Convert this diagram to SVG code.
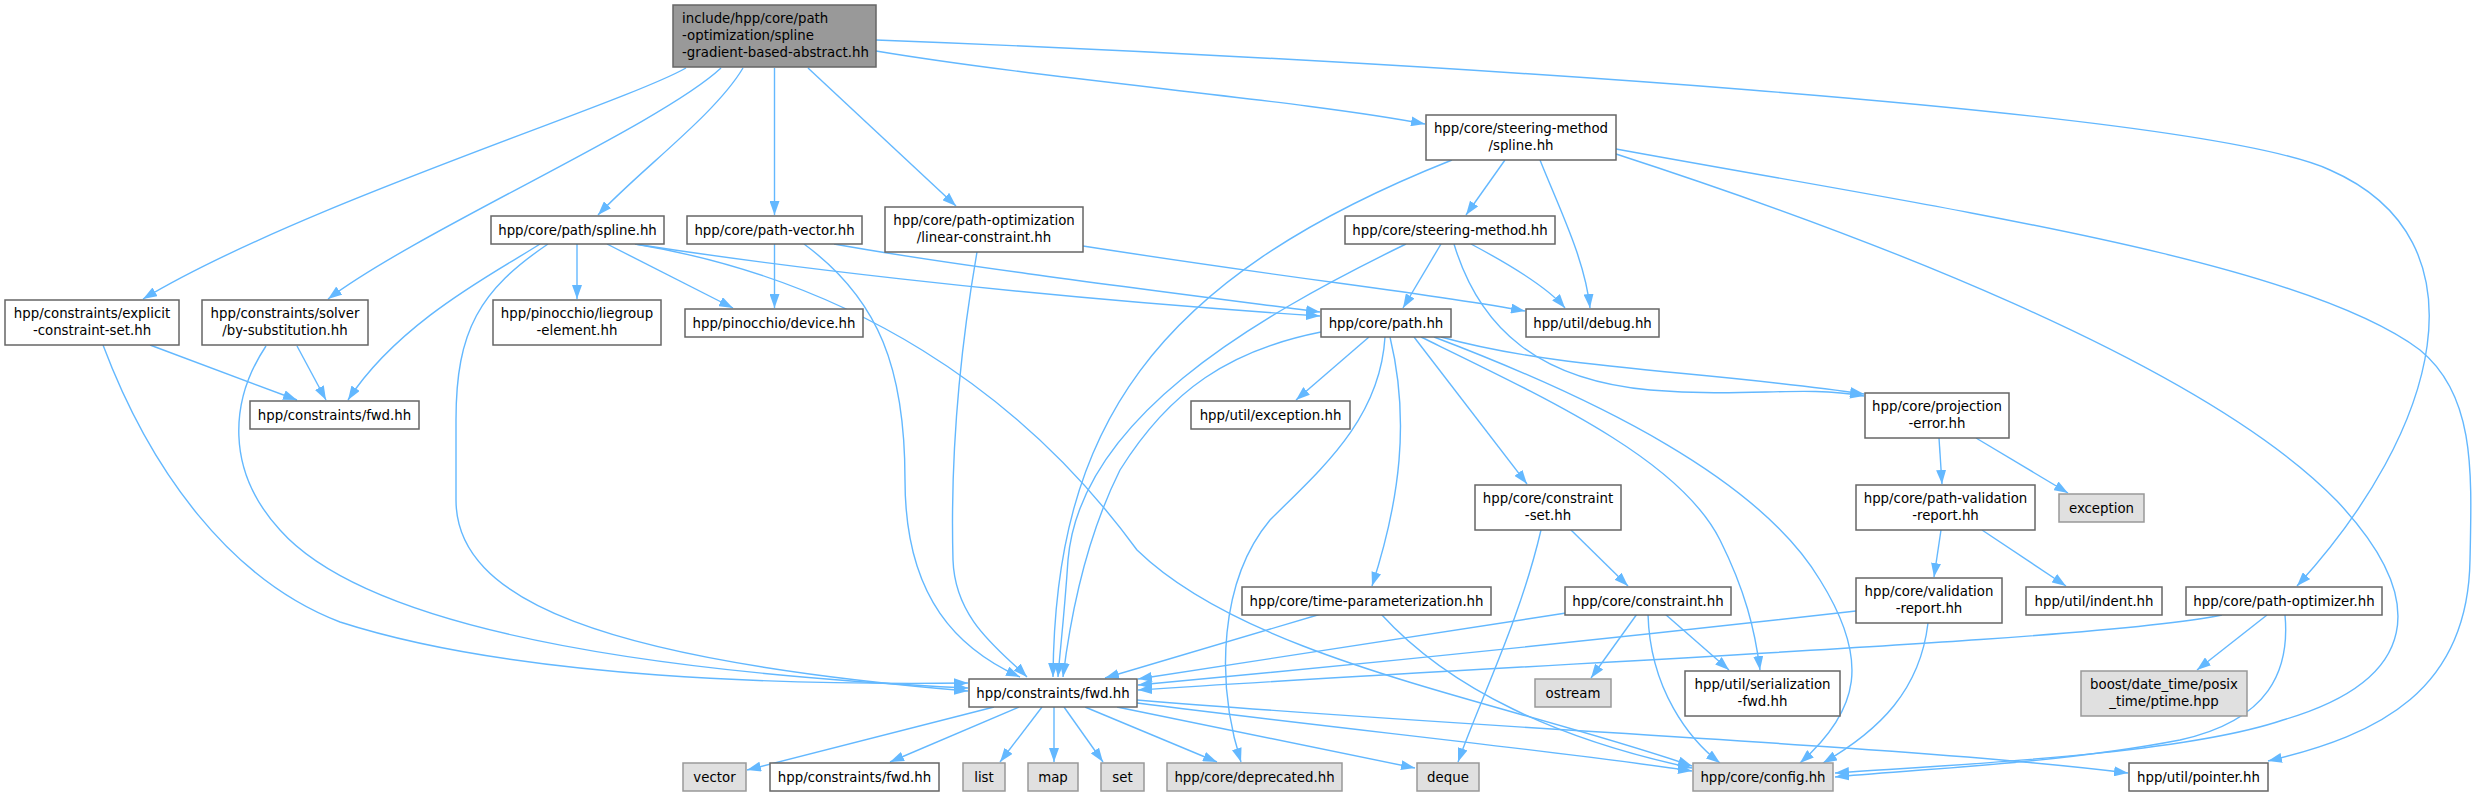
<svg xmlns="http://www.w3.org/2000/svg" width="2476" height="797" viewBox="0 0 2476 797">
<style>
.bg{fill:#ffffff}
.e path{fill:none;stroke:#63b8ff;stroke-width:1.4;marker-end:url(#ah)}
.n rect{fill:#ffffff;stroke:#666666;stroke-width:1.5}
.g rect{fill:#e0e0e0;stroke:#999999;stroke-width:1.5}
.r rect{fill:#999999;stroke:#666666;stroke-width:1.5}
text{font-family:"DejaVu Sans","Liberation Sans",sans-serif;font-size:13.33px;fill:#000000;text-anchor:middle}
.r text{text-anchor:start}
</style>
<defs>
<marker id="ah" markerUnits="userSpaceOnUse" markerWidth="14" markerHeight="10" refX="14" refY="5" orient="auto">
<path d="M0,0 L14,5 L0,10 z" fill="#63b8ff"/>
</marker>
</defs>
<rect class="bg" x="0" y="0" width="2476" height="797"/>
<g id="edges" class="e">
<path d="M686,68 C620,105 300,205 143,299"/>
<path d="M721,68 C660,125 420,230 328,299"/>
<path d="M743,68 C715,115 640,170 598,215"/>
<path d="M774.5,68 L774.5,215"/>
<path d="M808,68 L956,206"/>
<path d="M876,51 C1050,80 1300,100 1425,124"/>
<path d="M876,40 C1400,60 2200,110 2330,170 C2490,240 2440,430 2297,586"/>
<path d="M1452,160 C1150,280 1055,430 1053,677"/>
<path d="M1505,160 L1466,215"/>
<path d="M1540,160 C1560,210 1585,260 1590,308"/>
<path d="M1616,154 C1850,230 2200,360 2337,501 C2430,600 2420,680 2283,720 C2180,755 1950,765 1835,773"/>
<path d="M1616,149 C1950,210 2300,260 2420,350 C2475,395 2472,470 2470,560 C2468,690 2380,735 2268,761"/>
<path d="M150,345 L297,400"/>
<path d="M103,345 C150,470 230,580 340,622 C520,680 800,685 968,683"/>
<path d="M297,346 L326,400"/>
<path d="M266,346 C230,400 225,470 280,530 C360,620 600,670 968,688"/>
<path d="M540,244 C500,270 400,320 348,400"/>
<path d="M548,244 C480,290 456,330 456,420 L456,500 C456,600 600,660 968,691"/>
<path d="M577,244 L577,299"/>
<path d="M607,244 L733,308"/>
<path d="M635,244 C750,262 1000,295 1320,316"/>
<path d="M635,244 C850,280 1020,390 1137,550 C1250,660 1500,700 1692,766"/>
<path d="M774.5,244 L774.5,308"/>
<path d="M804,244 C880,300 905,370 905,480 C905,600 960,650 1020,677"/>
<path d="M834,244 C950,265 1150,290 1320,312"/>
<path d="M977,252 C960,350 950,450 953,560 C955,620 1000,650 1027,677"/>
<path d="M1083,246 C1300,280 1420,292 1525,311"/>
<path d="M1441,244 L1403,308"/>
<path d="M1406,244 C1250,320 1080,420 1068,560 C1064,620 1060,650 1058,677"/>
<path d="M1471,244 C1520,270 1550,290 1565,308"/>
<path d="M1454,244 C1480,330 1540,380 1650,390 C1750,398 1800,385 1864,396"/>
<path d="M1369,337 L1296,400"/>
<path d="M1321,332 C1230,350 1170,390 1120,470 C1085,540 1070,620 1063,677"/>
<path d="M1385,337 C1380,420 1320,470 1270,520 C1220,580 1215,680 1241,762"/>
<path d="M1390,337 C1410,420 1400,500 1372,586"/>
<path d="M1414,337 L1527,484"/>
<path d="M1421,337 C1550,400 1680,460 1720,540 C1745,590 1755,630 1760,670"/>
<path d="M1434,337 C1600,400 1760,480 1820,580 C1870,660 1860,710 1800,763"/>
<path d="M1441,337 C1560,370 1700,370 1864,394"/>
<path d="M1939,438 L1942,484"/>
<path d="M1976,438 L2068,493"/>
<path d="M1941,530 L1934,577"/>
<path d="M1982,530 L2066,586"/>
<path d="M1541,530 C1520,620 1480,700 1458,762"/>
<path d="M1571,530 L1628,586"/>
<path d="M1566,613 L1138,679"/>
<path d="M1637,614 L1591,678"/>
<path d="M1648,614 C1650,690 1690,740 1720,763"/>
<path d="M1665,614 L1729,670"/>
<path d="M1321,614 L1105,678"/>
<path d="M1381,614 C1450,690 1560,740 1692,768"/>
<path d="M1856,611 C1600,640 1300,670 1138,685"/>
<path d="M1928,623 C1920,690 1880,730 1823,763"/>
<path d="M2222,615 C2100,640 1600,660 1138,690"/>
<path d="M2267,615 L2197,670"/>
<path d="M2285,615 C2290,670 2270,720 2180,740 C2050,765 1900,770 1835,777"/>
<path d="M994,707 L747,770"/>
<path d="M1019,707 L890,762"/>
<path d="M1042,707 L1000,762"/>
<path d="M1054,707 L1054,762"/>
<path d="M1064,707 L1103,762"/>
<path d="M1085,707 L1217,762"/>
<path d="M1117,707 L1415,768"/>
<path d="M1137,703 C1350,730 1550,750 1692,771"/>
<path d="M1137,700 C1500,730 1900,745 2128,773"/>
</g>
<g id="n0" class="r"><rect x="673" y="5" width="203" height="62"/><text x="682" y="23.4">include/hpp/core/path</text><text x="682" y="40.4">-optimization/spline</text><text x="682" y="57.4">-gradient-based-abstract.hh</text></g>
<g id="n1" class="n"><rect x="1426" y="115" width="190" height="45"/><text x="1521" y="133">hpp/core/steering-method</text><text x="1521" y="150">/spline.hh</text></g>
<g id="n2" class="n"><rect x="5" y="300" width="174" height="45"/><text x="92" y="318">hpp/constraints/explicit</text><text x="92" y="335">-constraint-set.hh</text></g>
<g id="n3" class="n"><rect x="202" y="300" width="166" height="45"/><text x="285" y="318">hpp/constraints/solver</text><text x="285" y="335">/by-substitution.hh</text></g>
<g id="n4" class="n"><rect x="491" y="216" width="173" height="28"/><text x="577.5" y="234.5">hpp/core/path/spline.hh</text></g>
<g id="n5" class="n"><rect x="687" y="216" width="175" height="28"/><text x="774.5" y="234.5">hpp/core/path-vector.hh</text></g>
<g id="n6" class="n"><rect x="885" y="207" width="198" height="45"/><text x="984" y="225">hpp/core/path-optimization</text><text x="984" y="242">/linear-constraint.hh</text></g>
<g id="n7" class="n"><rect x="1345" y="216" width="210" height="28"/><text x="1450" y="234.5">hpp/core/steering-method.hh</text></g>
<g id="n8" class="n"><rect x="493" y="300" width="168" height="45"/><text x="577" y="318">hpp/pinocchio/liegroup</text><text x="577" y="335">-element.hh</text></g>
<g id="n9" class="n"><rect x="685" y="309" width="178" height="28"/><text x="774" y="327.5">hpp/pinocchio/device.hh</text></g>
<g id="n10" class="n"><rect x="1321" y="309" width="130" height="28"/><text x="1386" y="327.5">hpp/core/path.hh</text></g>
<g id="n11" class="n"><rect x="1526" y="309" width="133" height="28"/><text x="1592.5" y="327.5">hpp/util/debug.hh</text></g>
<g id="n12" class="n"><rect x="250" y="401" width="169" height="28"/><text x="334.5" y="419.5">hpp/constraints/fwd.hh</text></g>
<g id="n13" class="n"><rect x="1191" y="401" width="159" height="28"/><text x="1270.5" y="419.5">hpp/util/exception.hh</text></g>
<g id="n14" class="n"><rect x="1865" y="393" width="144" height="45"/><text x="1937" y="411">hpp/core/projection</text><text x="1937" y="428">-error.hh</text></g>
<g id="n15" class="n"><rect x="1475" y="485" width="146" height="45"/><text x="1548" y="503">hpp/core/constraint</text><text x="1548" y="520">-set.hh</text></g>
<g id="n16" class="n"><rect x="1856" y="485" width="179" height="45"/><text x="1945.5" y="503">hpp/core/path-validation</text><text x="1945.5" y="520">-report.hh</text></g>
<g id="n17" class="g"><rect x="2059" y="494" width="85" height="28"/><text x="2101.5" y="512.5">exception</text></g>
<g id="n18" class="n"><rect x="1242" y="587" width="249" height="28"/><text x="1366.5" y="605.5">hpp/core/time-parameterization.hh</text></g>
<g id="n19" class="n"><rect x="1565" y="587" width="166" height="28"/><text x="1648" y="605.5">hpp/core/constraint.hh</text></g>
<g id="n20" class="n"><rect x="1856" y="578" width="146" height="45"/><text x="1929" y="596">hpp/core/validation</text><text x="1929" y="613">-report.hh</text></g>
<g id="n21" class="n"><rect x="2026" y="587" width="136" height="28"/><text x="2094" y="605.5">hpp/util/indent.hh</text></g>
<g id="n22" class="n"><rect x="2186" y="587" width="196" height="28"/><text x="2284" y="605.5">hpp/core/path-optimizer.hh</text></g>
<g id="n23" class="g"><rect x="2081" y="671" width="166" height="45"/><text x="2164" y="689">boost/date_time/posix</text><text x="2164" y="706">_time/ptime.hpp</text></g>
<g id="n24" class="n"><rect x="969" y="679" width="168" height="28"/><text x="1053" y="697.5">hpp/constraints/fwd.hh</text></g>
<g id="n25" class="g"><rect x="1535" y="679" width="76" height="28"/><text x="1573" y="697.5">ostream</text></g>
<g id="n26" class="n"><rect x="1685" y="671" width="155" height="45"/><text x="1762.5" y="689">hpp/util/serialization</text><text x="1762.5" y="706">-fwd.hh</text></g>
<g id="n27" class="g"><rect x="683" y="763" width="63" height="28"/><text x="714.5" y="781.5">vector</text></g>
<g id="n28" class="n"><rect x="770" y="763" width="169" height="28"/><text x="854.5" y="781.5">hpp/constraints/fwd.hh</text></g>
<g id="n29" class="g"><rect x="963" y="763" width="42" height="28"/><text x="984" y="781.5">list</text></g>
<g id="n30" class="g"><rect x="1028" y="763" width="50" height="28"/><text x="1053" y="781.5">map</text></g>
<g id="n31" class="g"><rect x="1101" y="763" width="43" height="28"/><text x="1122.5" y="781.5">set</text></g>
<g id="n32" class="g"><rect x="1167" y="763" width="175" height="28"/><text x="1254.5" y="781.5">hpp/core/deprecated.hh</text></g>
<g id="n33" class="g"><rect x="1417" y="763" width="62" height="28"/><text x="1448" y="781.5">deque</text></g>
<g id="n34" class="g"><rect x="1693" y="763" width="140" height="28"/><text x="1763" y="781.5">hpp/core/config.hh</text></g>
<g id="n35" class="n"><rect x="2129" y="763" width="139" height="28"/><text x="2198.5" y="781.5">hpp/util/pointer.hh</text></g>
</svg>
